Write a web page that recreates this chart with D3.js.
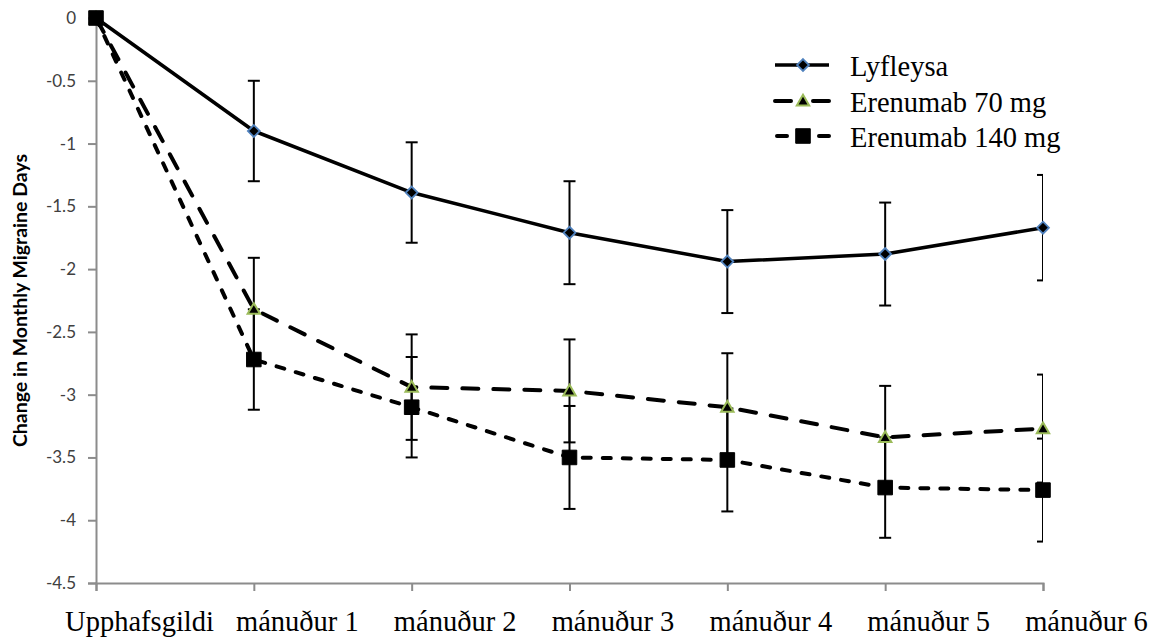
<!DOCTYPE html>
<html>
<head>
<meta charset="utf-8">
<script src="https://cdn.jsdelivr.net/npm/d3@7"></script>
<style>
  html, body { margin: 0; padding: 0; background: #fff; }
  svg { display: block; }
</style>
</head>
<body>
<svg id="chart" width="1153" height="641"></svg>
<script>
const categories = ["Upphafsgildi", "mánuður 1", "mánuður 2", "mánuður 3", "mánuður 4", "mánuður 5", "mánuður 6"];
const seriesNames = ["Lyfleysa", "Erenumab 70 mg", "Erenumab 140 mg"];
const placebo    = [0, -0.90, -1.39, -1.71, -1.94, -1.88, -1.67];
const placeboErr = [0, 0.40, 0.40, 0.41, 0.41, 0.41, 0.42];
const e70        = [0, -2.32, -2.94, -2.97, -3.10, -3.34, -3.27];
const e70Err     = [0, 0.41, 0.42, 0.41, 0.43, 0.41, 0.43];
const e140       = [0, -2.72, -3.10, -3.50, -3.52, -3.74, -3.76];
const e140Err    = [0, 0.40, 0.40, 0.41, 0.41, 0.40, 0.41];
const yTicks     = [0, -0.5, -1, -1.5, -2, -2.5, -3, -3.5, -4, -4.5];
const yTitle = "Change in Monthly Migraine Days";

(function () {
const svg = d3.select("#chart");
const pL = 96, pR = 1043, pT = 18, pB = 583;

const x = d3.scalePoint().domain(categories).range([pL, pR]);
const y = d3.scaleLinear().domain([0, -4.5]).range([pT, pB]);

const axisColor = "#8c8c8c";

svg.append("defs").append("clipPath").attr("id", "plotclip")
  .append("rect").attr("x", pL).attr("y", pT - 2).attr("width", pR - pL).attr("height", pB - pT + 4);

// Y axis
const yAxis = svg.append("g").attr("transform", `translate(${pL},0)`)
  .call(d3.axisLeft(y).tickValues(yTicks).tickFormat(d => String(d)).tickSize(8).tickPadding(12));
yAxis.select(".domain").attr("stroke", axisColor).attr("stroke-width", 2);
yAxis.selectAll(".tick line").attr("stroke", axisColor).attr("stroke-width", 2);
yAxis.selectAll(".tick text").attr("fill", "#404040")
  .style("font-family", "Lato, 'Open Sans', sans-serif").style("font-size", "17px");

// X axis
const xAxis = svg.append("g").attr("transform", `translate(0,${pB})`)
  .call(d3.axisBottom(x).tickSize(8).tickPadding(20));
xAxis.select(".domain").attr("stroke", axisColor).attr("stroke-width", 2);
xAxis.selectAll(".tick line").attr("stroke", axisColor).attr("stroke-width", 2);
xAxis.selectAll(".tick text").attr("fill", "#000")
  .attr("dx", 43)
  .style("font-family", "'Liberation Serif', 'Times New Roman', serif").style("font-size", "28.5px");

// Y title
svg.append("text")
  .attr("transform", `translate(27,${(pT + pB) / 2}) rotate(-90)`)
  .attr("text-anchor", "middle")
  .style("font-family", "Lato, 'Open Sans', sans-serif")
  .style("font-weight", "700")
  .style("font-size", "19.5px")
  .attr("fill", "#000")
  .text(yTitle);

const series = [
  { name: seriesNames[0], values: placebo, errs: placeboErr, dash: null, marker: "diamond" },
  { name: seriesNames[1], values: e70, errs: e70Err, dash: "16,15", marker: "triangle" },
  { name: seriesNames[2], values: e140, errs: e140Err, dash: "8,12", marker: "square" }
];

const line = d3.line().x((d, i) => x(categories[i])).y(d => y(d));

function drawMarker(g, type, cx, cy) {
  if (type === "diamond") {
    g.append("path").attr("d", d3.symbol().type(d3.symbolDiamond2).size(90)())
      .attr("transform", `translate(${cx},${cy})`)
      .attr("fill", "#000").attr("stroke", "#4f81bd").attr("stroke-width", 1.8);
  } else if (type === "triangle") {
    g.append("path").attr("d", d3.symbol().type(d3.symbolTriangle2).size(110)())
      .attr("transform", `translate(${cx},${cy + 1})`)
      .attr("fill", "#000").attr("stroke", "#9bbb59").attr("stroke-width", 2);
  } else {
    g.append("path").attr("d", d3.symbol().type(d3.symbolSquare2).size(270)())
      .attr("transform", `translate(${cx},${cy})`)
      .attr("fill", "#000").attr("stroke", "#000").attr("stroke-width", 1);
  }
}

series.forEach(s => {
  const p = svg.append("path").datum(s.values)
    .attr("d", line).attr("fill", "none").attr("stroke", "#000")
    .attr("stroke-width", s.dash ? 4 : 3.5)
    .attr("stroke-linejoin", "round");
  if (s.dash) p.attr("stroke-dasharray", s.dash).attr("stroke-linecap", "round");
});

series.forEach(s => {
  const eg = svg.append("g").attr("clip-path", "url(#plotclip)");
  s.values.forEach((v, i) => {
    const e = s.errs[i];
    if (!e) return;
    const cx = x(categories[i]);
    const y1 = y(v + e), y2 = y(v - e);
    eg.append("line").attr("x1", cx).attr("x2", cx).attr("y1", y1).attr("y2", y2)
      .attr("stroke", "#000").attr("stroke-width", 2);
    [y1, y2].forEach(yy => {
      eg.append("line").attr("x1", cx - 6).attr("x2", cx + 6).attr("y1", yy).attr("y2", yy)
        .attr("stroke", "#000").attr("stroke-width", 2);
    });
  });
});
series.forEach(s => {
  const mg = svg.append("g");
  s.values.forEach((v, i) => drawMarker(mg, s.marker, x(categories[i]), y(v)));
});

// legend
const legend = svg.append("g");
const legY = [65, 101, 136];
series.forEach((s, i) => {
  const ly = legY[i];
  const l = legend.append("line").attr("x1", 775).attr("x2", 829).attr("y1", ly).attr("y2", ly)
    .attr("stroke", "#000").attr("stroke-width", s.dash ? 4 : 3.5);
  if (s.dash) {
    l.attr("stroke-linecap", "round").attr("stroke-dasharray", i === 1 ? "16,22" : "10,32").attr("stroke-dashoffset", i === 1 ? 0 : -2);
  }
  drawMarker(legend, s.marker, 803, ly);
  legend.append("text").attr("x", 850).attr("y", ly + 11)
    .style("font-family", "'Liberation Serif', 'Times New Roman', serif").style("font-size", "28.5px")
    .attr("fill", "#000").text(s.name);
});
})();
</script>
</body>
</html>
